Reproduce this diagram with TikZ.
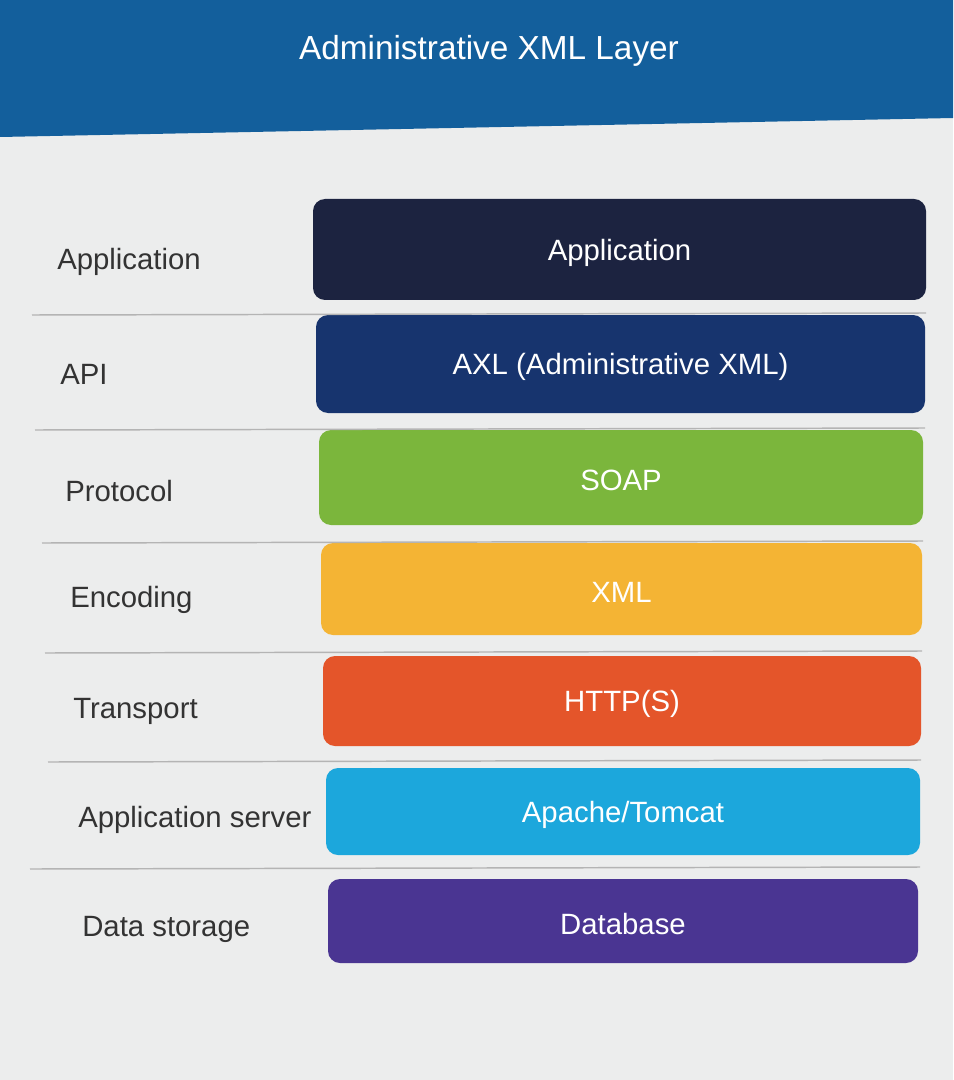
\documentclass[tikz,border=0pt]{standalone}
\usepackage{fontspec}
\setmainfont{Liberation Sans}
\usetikzlibrary{positioning}
\definecolor{header}{HTML}{135F9C}
\definecolor{paper}{HTML}{ECEDED}
\definecolor{ink}{HTML}{333333}
\definecolor{rule}{HTML}{B4B4B4}
\definecolor{appcol}{HTML}{1C2340}
\definecolor{apicol}{HTML}{17346E}
\definecolor{soapcol}{HTML}{7BB63C}
\definecolor{xmlcol}{HTML}{F4B434}
\definecolor{httpcol}{HTML}{E4552A}
\definecolor{tomcatcol}{HTML}{1CA7DC}
\definecolor{dbcol}{HTML}{4A3592}

\begin{document}
\begin{tikzpicture}[x=0.75pt,y=-0.75pt,
    layerlabel/.style={anchor=west,inner sep=0pt,text=ink,font=\fontsize{22}{26}\selectfont},
    layerbox/.style={fill=#1,rounded corners=9pt,inner sep=0pt},
    boxtext/.style={text=white,font=\fontsize{22}{26}\selectfont},
    sepline/.style={rule,line width=1.1pt}]
  \useasboundingbox (0,0) rectangle (953,1080);
  \fill[paper] (0,0) rectangle (953,1080);
  % title band
  \fill[header] (0,0) -- (953,0) -- (953,118) -- (0,137) -- cycle;
  \node[text=white,font=\fontsize{25}{30}\selectfont] (title) at (489,51) {Administrative XML Layer};
  % layers: label/box text/colour/label x/label y/box left/box right/box top/box bottom
  \foreach \i/\name/\txt/\col/\lx/\ly/\l/\r/\t/\b in {
    1/Application/Application/appcol/57/262/313/926/199/300,
    2/API/AXL (Administrative XML)/apicol/60/374/316/925/315/413,
    3/Protocol/SOAP/soapcol/65/491/319/923/430/525,
    4/Encoding/XML/xmlcol/70/600/321/922/543/635,
    5/Transport/HTTP(S)/httpcol/73/711/323/921/656/746,
    6/Application server/{Apache/Tomcat}/tomcatcol/78/820/326/920/768/855,
    7/Data storage/Database/dbcol/82/929/328/918/879/963} {
      \node[layerlabel] (lbl\i) at (\lx,\ly) {\name};
      \node[layerbox=\col,minimum width={(\r-\l)*0.75pt},minimum height={(\b-\t)*0.75pt}]
        (box\i) at ({(\l+\r)/2},{(\t+\b)/2}) {};
      \node[boxtext] (txt\i) at ({(\l+\r)/2},{(\t+\b)/2+3}) {\txt};
  }
  % separators between the layers
  \foreach \y/\a/\z in {315/32/926,430/35/925,543/42/923,653/45/922,762/48/921,869/30/920}
    \draw[sepline] (\a,\y) -- (\z,\y-2);
\end{tikzpicture}
\end{document}
